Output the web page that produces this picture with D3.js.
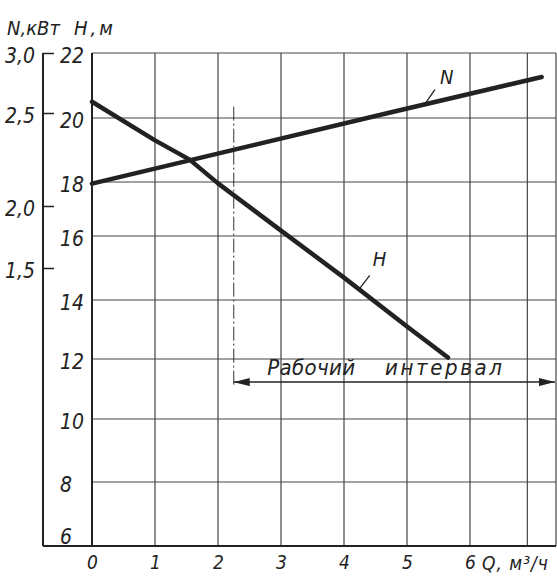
<html>
<head>
    <style>
        body { margin: 0; background: #fff; }
        text { font-family: "Liberation Sans Narrow", "DejaVu Sans Condensed", sans-serif; font-style: italic; fill: #222; }
        .grid { stroke: #444; stroke-width: 1.2; }
        .frame { stroke: #222; stroke-width: 2; fill: none; }
        .curve { fill: none; stroke: #222; stroke-width: 4.5; stroke-linecap: round; stroke-linejoin: round; }
    </style>
    <script src="https://d3js.org/d3.v7.min.js"></script>
</head>
<body>
    <svg width="557" height="576"></svg>

    <script>
        // data
        var qTicks = [0, 1, 2, 3, 4, 5, 6];
        var qGrid = [1, 2, 3, 4, 5, 6, 7];
        var hTicks = [6, 8, 10, 12, 14, 16, 18, 20, 22];
        var nTicks = [1.5, 2.0, 2.5, 3.0];

        var qH = [0, 1, 1.55, 2, 3, 4, 5, 5.65];            // H(Q) curve
        var hValues = [20.5, 19.3, 18.7, 17.95, 16.2, 14.7, 13.1, 12.05];
        var qN = [0, 4.7, 7.25];                              // N(Q) line
        var nValues = [2.12, 2.5, 2.8];

        var workStart = 2.25, workEnd = 7.5;                  // рабочий интервал

        var svg = d3.select("svg");

        // scales (the drawing is not evenly spaced, so polylinear)
        var x = d3.scaleLinear().domain([0, 6, 7.5]).range([92, 470, 556]);
        var yH = d3.scaleLinear().domain(hTicks).range([546, 482, 419, 359, 300, 236, 182, 118, 53]);
        var yN = d3.scaleLinear().domain(nTicks).range([268, 206, 113, 53]);
        var axN = 43;

        var comma = d3.formatLocale({decimal: ",", thousands: " ", grouping: [3], currency: ["", ""]}).format(".1f");

        // grid
        svg.append("g").selectAll("line").data(hTicks.slice(1, -1)).enter().append("line")
           .attr("class", "grid")
           .attr("x1", x(0)).attr("x2", x(7.5))
           .attr("y1", function(d){ return yH(d); }).attr("y2", function(d){ return yH(d); });
        svg.append("g").selectAll("line").data(qGrid).enter().append("line")
           .attr("class", "grid")
           .attr("y1", yH(22)).attr("y2", yH(6))
           .attr("x1", function(d){ return x(d); }).attr("x2", function(d){ return x(d); });

        // frame
        svg.append("line").attr("class", "grid").attr("x1", x(0)).attr("x2", x(7.5)).attr("y1", yH(22)).attr("y2", yH(22));
        svg.append("line").attr("class", "grid").attr("x1", x(7.5)).attr("x2", x(7.5)).attr("y1", yH(22)).attr("y2", yH(6));
        svg.append("line").attr("class", "frame").attr("x1", x(0)).attr("x2", x(0)).attr("y1", yH(22)).attr("y2", yH(6));
        svg.append("line").attr("class", "frame").attr("x1", axN).attr("x2", axN).attr("y1", yN(3.0)).attr("y2", yH(6));
        svg.append("line").attr("class", "frame").attr("x1", axN).attr("x2", x(7.5)).attr("y1", yH(6)).attr("y2", yH(6));

        // N axis
        var gN = svg.append("g").attr("transform", "translate(" + axN + ",0)")
           .call(d3.axisLeft(yN).tickValues(nTicks).tickSizeInner(-11).tickSizeOuter(0).tickPadding(8).tickFormat(comma));
        gN.select(".domain").remove();
        gN.selectAll(".tick line").attr("stroke", "#222").attr("stroke-width", 1.5);
        gN.selectAll("text").attr("font-size", 21).attr("dy", "0.45em").style("font-family", null);

        // H axis
        var gH = svg.append("g").attr("transform", "translate(" + x(0) + ",0)")
           .call(d3.axisLeft(yH).tickValues(hTicks).tickSize(0).tickPadding(0));
        gH.select(".domain").remove();
        gH.selectAll("text").attr("font-size", 21).attr("text-anchor", "start").attr("x", -32)
           .attr("dy", function(d){ return d === 6 ? "-0.12em" : "0.45em"; }).style("font-family", null);

        // Q axis
        var gQ = svg.append("g").attr("transform", "translate(0," + yH(6) + ")")
           .call(d3.axisBottom(x).tickValues(qTicks).tickSize(0).tickPadding(10));
        gQ.select(".domain").remove();
        gQ.selectAll("text").attr("font-size", 19).style("font-family", null);

        // axis titles
        svg.append("text").attr("x", 7).attr("y", 35).attr("font-size", 20).text("N,кВт");
        svg.append("text").attr("x", 74).attr("y", 35).attr("font-size", 20).attr("letter-spacing", 3).text("H,м");
        svg.append("text").attr("x", 482).attr("y", 570).attr("font-size", 19).attr("letter-spacing", 1).text("Q, м³/ч");

        // curves
        var lineH = d3.line().x(function(d){ return x(d[0]); }).y(function(d){ return yH(d[1]); });
        var lineN = d3.line().x(function(d){ return x(d[0]); }).y(function(d){ return yN(d[1]); });
        svg.append("path").attr("class", "curve").attr("d", lineH(d3.zip(qH, hValues)));
        svg.append("path").attr("class", "curve").attr("d", lineN(d3.zip(qN, nValues)));

        // curve labels with leader lines
        var nAt = d3.scaleLinear().domain(qN).range(nValues);
        var hAt = d3.scaleLinear().domain(qH).range(hValues);
        var pN = [x(5.3), yN(nAt(5.3))];
        svg.append("line").attr("stroke", "#222").attr("stroke-width", 1.3)
           .attr("x1", pN[0]).attr("y1", pN[1] - 2).attr("x2", pN[0] + 9).attr("y2", pN[1] - 15);
        svg.append("text").attr("x", pN[0] + 14).attr("y", pN[1] - 21).attr("font-size", 20).text("N");
        var pH = [x(4.25), yH(hAt(4.25))];
        svg.append("line").attr("stroke", "#222").attr("stroke-width", 1.3)
           .attr("x1", pH[0]).attr("y1", pH[1] - 2).attr("x2", pH[0] + 10).attr("y2", pH[1] - 15);
        svg.append("text").attr("x", pH[0] + 13).attr("y", pH[1] - 24).attr("font-size", 20).text("H");

        // рабочий интервал
        var defs = svg.append("defs");
        defs.append("marker").attr("id", "arr").attr("viewBox", "0 0 16 8").attr("refX", 16).attr("refY", 4)
            .attr("markerWidth", 16).attr("markerHeight", 8).attr("markerUnits", "userSpaceOnUse").attr("orient", "auto-start-reverse")
            .append("path").attr("d", "M0,0 L16,4 L0,8 Z").attr("fill", "#222");
        var yArr = yH(11.23);
        svg.append("line").attr("stroke", "#222").attr("stroke-width", 1.5)
           .attr("x1", x(workStart)).attr("x2", x(workEnd) - 1).attr("y1", yArr).attr("y2", yArr)
           .attr("marker-start", "url(#arr)").attr("marker-end", "url(#arr)");
        svg.append("line").attr("stroke", "#333").attr("stroke-width", 1).attr("stroke-dasharray", "14,3,2,3")
           .attr("x1", x(workStart)).attr("x2", x(workStart)).attr("y1", yH(20.35)).attr("y2", yArr + 4);
        svg.append("text").attr("x", x(2.78)).attr("y", yArr - 7).attr("font-size", 22)
           .attr("textLength", 88).attr("lengthAdjust", "spacing").text("Рабочий");
        svg.append("text").attr("x", x(4.65)).attr("y", yArr - 7).attr("font-size", 22)
           .attr("textLength", 117).attr("lengthAdjust", "spacing").text("интервал");
    </script>
</body>
</html>
